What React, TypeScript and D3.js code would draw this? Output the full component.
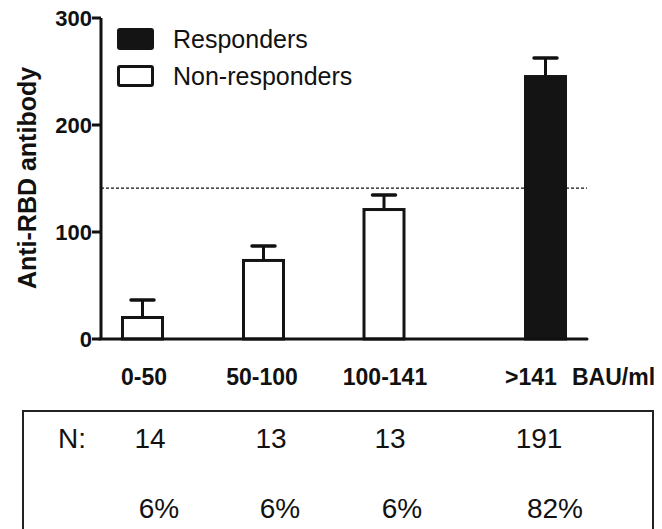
import * as d3 from "d3";
import React, { useEffect, useRef } from "react";

const categories = ["0-50", "50-100", "100-141", ">141"];
const means = [20.1, 73.4, 121, 245.3];
const sems = [16.3, 13.5, 13.6, 17.3];
const responder = [false, false, false, true];
const counts = ["14", "13", "13", "191"];
const percents = ["6%", "6%", "6%", "82%"];
const yTicks = [0, 100, 200, 300];
const threshold = 141;
const legendItems = ["Responders", "Non-responders"];

export default function App() {
  const ref = useRef<SVGSVGElement>(null);

  useEffect(() => {
    const svg = d3.select(ref.current);
    svg.selectAll("*").remove();

    const width = 662;
    const height = 529;
    const axisX = 101;
    const axisEnd = 587;

    const y = d3.scaleLinear().domain([0, 300]).range([339, 18]);
    const x = d3.scaleOrdinal<string, number>()
      .domain(categories)
      .range([142.5, 263.5, 384, 545.5]);
    // label positions under the axis (last one is shifted left to fit the unit)
    const labelX = d3.scaleOrdinal<string, number>()
      .domain(categories)
      .range([144, 262, 385, 531]);
    const nCol = d3.scaleOrdinal<string, number>()
      .domain(categories)
      .range([150, 271, 390, 539]);
    const pctCol = d3.scaleOrdinal<string, number>()
      .domain(categories)
      .range([159, 280, 402, 555]);

    const barW = 40;
    const capW = 23;
    const sans = "'Liberation Sans', Arial, sans-serif";

    svg.attr("width", width).attr("height", height);

    // threshold line
    svg.append("line")
      .attr("x1", axisX).attr("x2", axisEnd)
      .attr("y1", y(threshold)).attr("y2", y(threshold))
      .attr("stroke", "#111").attr("stroke-width", 1.4)
      .attr("stroke-dasharray", "3,2");

    const data = categories.map((c, i) => ({ c, m: means[i], e: sems[i], r: responder[i] }));

    // error bars
    const eb = svg.append("g").selectAll("g").data(data).join("g");
    eb.append("line")
      .attr("x1", d => x(d.c)).attr("x2", d => x(d.c))
      .attr("y1", d => y(d.m)).attr("y2", d => y(d.m + d.e))
      .attr("stroke", "#111").attr("stroke-width", 3);
    eb.append("line")
      .attr("x1", d => x(d.c) - capW / 2).attr("x2", d => x(d.c) + capW / 2)
      .attr("y1", d => y(d.m + d.e)).attr("y2", d => y(d.m + d.e))
      .attr("stroke", "#111").attr("stroke-width", 3.5).attr("stroke-linecap", "round");

    // bars
    svg.append("g").selectAll("rect").data(data).join("rect")
      .attr("x", d => x(d.c) - barW / 2)
      .attr("y", d => y(d.m))
      .attr("width", barW)
      .attr("height", d => y(0) - y(d.m))
      .attr("fill", d => (d.r ? "#141414" : "#fff"))
      .attr("stroke", "#141414").attr("stroke-width", 3);

    // axes
    svg.append("line")
      .attr("x1", axisX).attr("x2", axisX)
      .attr("y1", y(300)).attr("y2", y(0))
      .attr("stroke", "#111").attr("stroke-width", 3);
    svg.append("line")
      .attr("x1", axisX - 1.5).attr("x2", axisEnd)
      .attr("y1", y(0)).attr("y2", y(0))
      .attr("stroke", "#111").attr("stroke-width", 3).attr("stroke-linecap", "round");

    const ticks = svg.append("g").selectAll("g").data(yTicks).join("g")
      .attr("transform", d => `translate(0,${y(d)})`);
    ticks.append("line")
      .attr("x1", axisX - 9).attr("x2", axisX)
      .attr("stroke", "#111").attr("stroke-width", 3);
    ticks.append("text")
      .attr("x", axisX - 9).attr("dy", "0.36em")
      .attr("text-anchor", "end")
      .attr("font-family", sans).attr("font-weight", "bold").attr("font-size", 22)
      .attr("fill", "#111")
      .text(d => d);

    svg.append("text")
      .attr("transform", `translate(36,178) rotate(-90)`)
      .attr("text-anchor", "middle")
      .attr("font-family", sans).attr("font-weight", "bold").attr("font-size", 25)
      .attr("fill", "#111")
      .text("Anti-RBD antibody");

    // x labels
    svg.append("g").selectAll("text").data(categories).join("text")
      .attr("x", d => labelX(d)).attr("y", 385)
      .attr("text-anchor", "middle")
      .attr("font-family", sans).attr("font-weight", "bold").attr("font-size", 23)
      .attr("fill", "#111")
      .text(d => d);
    svg.append("text")
      .attr("x", 572).attr("y", 385)
      .attr("font-family", sans).attr("font-weight", "bold").attr("font-size", 23)
      .attr("fill", "#111")
      .text("BAU/ml");

    // legend
    const lg = svg.append("g").selectAll("g").data(legendItems).join("g")
      .attr("transform", (d, i) => `translate(0,${i * 37})`);
    lg.append("rect")
      .attr("x", 118.5).attr("y", 29.5).attr("width", 34).attr("height", 19)
      .attr("rx", 1.5)
      .attr("fill", (d, i) => (i === 0 ? "#141414" : "#fff"))
      .attr("stroke", "#141414").attr("stroke-width", 3);
    lg.append("text")
      .attr("x", 173).attr("y", 48)
      .attr("font-family", sans).attr("font-size", 25)
      .attr("fill", "#111")
      .text(d => d);

    // table
    svg.append("rect")
      .attr("x", 23).attr("y", 411).attr("width", 630).attr("height", 140)
      .attr("fill", "none").attr("stroke", "#222").attr("stroke-width", 2);

    const narrow = "'Liberation Sans Narrow', 'Arial Narrow', sans-serif";
    svg.append("text")
      .attr("x", 58).attr("y", 448)
      .attr("font-family", narrow).attr("font-size", 28).attr("fill", "#111")
      .text("N:");
    svg.append("g").selectAll("text").data(categories).join("text")
      .attr("x", d => nCol(d)).attr("y", 448)
      .attr("text-anchor", "middle")
      .attr("font-family", narrow).attr("font-size", 28).attr("fill", "#111")
      .text((d, i) => counts[i]);
    svg.append("g").selectAll("text").data(categories).join("text")
      .attr("x", d => pctCol(d)).attr("y", 518)
      .attr("text-anchor", "middle")
      .attr("font-family", narrow).attr("font-size", 28).attr("fill", "#111")
      .text((d, i) => percents[i]);
  }, []);

  return (
    <svg
      ref={ref}
      style={{ position: "absolute", left: 0, top: 0, background: "#fff" }}
    />
  );
}
